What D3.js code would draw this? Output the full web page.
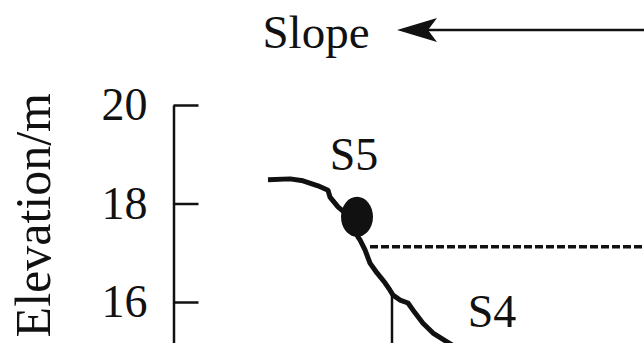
<!DOCTYPE html>
<html>
<head>
<meta charset="utf-8">
<script src="https://cdn.jsdelivr.net/npm/d3@7"></script>
<style>
  html, body { margin: 0; padding: 0; background: #fff; }
  svg { display: block; }
</style>
</head>
<body>
<div id="chart"></div>
<script>
// profile of the bank: distance (m) vs elevation (m)
const profileX = [9.4, 11.6, 12.9, 14.4, 15.4, 15.6, 16.4, 17.1, 17.8, 18.4, 18.6, 19.1, 19.6, 20.3, 21.1, 21.6, 21.9, 22.6, 23.4, 24.1, 24.9, 25.9, 27.3, 28.6];
const profileY = [18.48, 18.50, 18.46, 18.36, 18.27, 18.13, 17.93, 17.81, 17.56, 17.32, 17.26, 17.06, 16.79, 16.59, 16.39, 16.24, 16.14, 16.04, 15.98, 15.78, 15.57, 15.37, 15.19, 15.03];

const yTicks = [16, 18, 20];

// sampling site S5 on the slope
const siteS5 = { x: 18.3, y: 17.73 };
// water level (dashed) and the vertical marker under S4
const waterLevel = { y: 17.12, x0: 19.6, x1: 48 };
const marker = { x: 21.8, y0: 16.18, y1: 14.5 };

const labels = [
  { text: "S5", x: 18.0, y: 18.68 },
  { text: "S4", x: 31.8, y: 15.49 }
];

const FONT = "Liberation Serif";
const width = 644, height = 343;

const svg = d3.select("#chart").append("svg")
  .attr("width", width)
  .attr("height", height)
  .attr("font-family", FONT);

const x = d3.scaleLinear().domain([0, 47]).range([174, 644]);
const y = d3.scaleLinear().domain([14, 20]).range([400.5, 105]);

// y axis, ticks pointing inward
const yAxis = d3.axisLeft(y)
  .tickValues(yTicks)
  .tickSizeInner(-25)
  .tickSizeOuter(0)
  .tickPadding(26)
  .tickFormat(d3.format("d"));

const gy = svg.append("g")
  .attr("transform", `translate(${x(0) - 0.5},0)`)
  .call(yAxis)
  .attr("font-family", null)
  .attr("font-size", 46);
gy.select(".domain").attr("stroke", "#111").attr("stroke-width", 2.5);
gy.selectAll(".tick line").attr("stroke", "#111").attr("stroke-width", 2.5);
gy.selectAll(".tick text").attr("fill", "#111").attr("font-family", FONT);

svg.append("text")
  .attr("transform", "translate(50,93) rotate(-90)")
  .attr("text-anchor", "end")
  .attr("font-size", 50)
  .attr("font-family", FONT)
  .attr("fill", "#111")
  .text("Elevation/m");

// water level
svg.append("line")
  .attr("x1", x(waterLevel.x0)).attr("x2", x(waterLevel.x1))
  .attr("y1", y(waterLevel.y)).attr("y2", y(waterLevel.y))
  .attr("stroke", "#111")
  .attr("stroke-width", 3.5)
  .attr("stroke-dasharray", "8,3");

// vertical marker
svg.append("line")
  .attr("x1", x(marker.x)).attr("x2", x(marker.x))
  .attr("y1", y(marker.y0)).attr("y2", y(marker.y1))
  .attr("stroke", "#111")
  .attr("stroke-width", 2.5);

// profile line
const line = d3.line()
  .x((d, i) => x(profileX[i]))
  .y((d, i) => y(profileY[i]));

svg.append("path")
  .datum(profileX)
  .attr("d", line)
  .attr("fill", "none")
  .attr("stroke", "#111")
  .attr("stroke-width", 5)
  .attr("stroke-linejoin", "round");

svg.append("ellipse")
  .attr("cx", x(siteS5.x))
  .attr("cy", y(siteS5.y))
  .attr("rx", 16)
  .attr("ry", 20)
  .attr("fill", "#111");

svg.selectAll(".site-label")
  .data(labels)
  .enter().append("text")
  .attr("class", "site-label")
  .attr("x", d => x(d.x))
  .attr("y", d => y(d.y))
  .attr("text-anchor", "middle")
  .attr("font-size", 46)
  .attr("font-family", FONT)
  .attr("fill", "#111")
  .text(d => d.text);

// slope direction
svg.append("text")
  .attr("x", 316)
  .attr("y", 48)
  .attr("text-anchor", "middle")
  .attr("font-size", 47)
  .attr("font-family", FONT)
  .attr("fill", "#111")
  .text("Slope");

svg.append("line")
  .attr("x1", 426).attr("x2", 650)
  .attr("y1", 30).attr("y2", 30)
  .attr("stroke", "#111")
  .attr("stroke-width", 2.5);

svg.append("path")
  .attr("d", "M397,30 L437,18 L428,30 L437,42 Z")
  .attr("fill", "#111");
</script>
</body>
</html>
